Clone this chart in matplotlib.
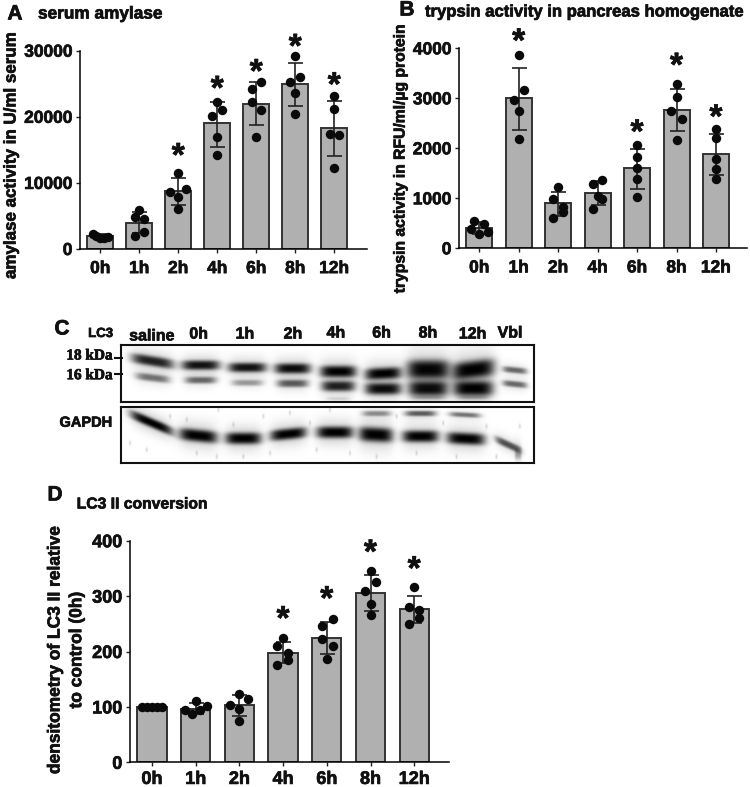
import numpy as np
import matplotlib
matplotlib.use("Agg")
import matplotlib.pyplot as plt
import matplotlib.patheffects as pe

plt.rcParams['font.family'] = ['Liberation Sans', 'DejaVu Sans']
plt.rcParams['font.weight'] = 'bold'

W, H = 750, 787
hours = ["0h", "1h", "2h", "4h", "6h", "8h", "12h"]
heavy = [pe.withStroke(linewidth=0.5, foreground='#111111')]

# Panel A
a_means = [2000, 4000, 8700, 19000, 22000, 25000, 18300]
a_low = [1750, 2400, 6700, 15500, 18700, 21700, 14000]
a_high = [2250, 5600, 10700, 22300, 25200, 28200, 22400]
a_points = [[2300, 1900, 1700, 1600, 1850],
            [5900, 4800, 4500, 2600, 1950],
            [11550, 8670, 9030, 7900, 6050],
            [22200, 21100, 20100, 16900, 14170],
            [25260, 24150, 22290, 21000, 16940],
            [29250, 26070, 25210, 23600, 20420],
            [23140, 21180, 17400, 17200, 12300]]
a_jitter = [[-.2, -.1, 0, .1, .2],
            [0, -.12, .12, .12, -.12],
            [0, -.21, .21, 0, 0],
            [0, .13, -.13, 0, 0],
            [.12, -.12, -.12, .12, 0],
            [0, .13, -.13, 0, 0],
            [0, 0, -.12, .12, 0]]
a_star = [None, None, 14700, 24850, 27400, 31200, 25400]

# Panel B
b_means = [400, 3000, 900, 1100, 1600, 2770, 1880]
b_low = [280, 2370, 650, 870, 1190, 2340, 1460]
b_high = [520, 3600, 1120, 1340, 1980, 3190, 2290]
b_points = [[540, 487, 380, 320, 280],
            [3860, 3160, 2973, 2753, 2180],
            [1220, 980, 833, 733, 613],
            [1287, 1367, 1053, 987, 793],
            [2060, 1833, 1600, 1380, 1033],
            [3287, 3020, 2753, 2593, 2167],
            [2393, 2200, 1787, 1580, 1380]]
b_jitter = [[-.13, .13, -.22, .21, 0],
            [0, .13, -.13, 0, 0],
            [0, -.13, .13, .13, -.13],
            [-.13, .12, 0, .12, -.13],
            [0, 0, 0, 0, 0],
            [0, 0, -.13, .13, 0],
            [0, 0, 0, 0, 0]]
b_star = [None, 4220, None, None, 2400, 3733, 2700]

# Panel D
d_means = [100, 97, 103, 198, 224, 306, 276]
d_low = [100, 87, 84, 179, 196, 274, 251]
d_high = [100, 107, 122, 218, 254, 338, 301]
d_points = [[100, 100, 100, 100, 100],
            [110, 102, 94, 94, 88],
            [124, 115, 103, 97, 75],
            [225, 210, 198, 185, 175],
            [258, 246, 223, 210, 186],
            [345, 325, 310, 285, 265],
            [316, 281, 275, 261, 250]]
d_jitter = [[-.22, -.11, 0, .11, .22],
            [0, .27, -.25, .09, -.08],
            [0, .2, -.22, 0, 0],
            [0, -.13, .12, .12, -.13],
            [.14, -.11, -.11, .14, 0],
            [0, .13, -.13, 0, 0],
            [0, -.13, .12, .12, -.13]]
d_star = [None, None, None, 266, 302, 386, 356]

# Blot bands (zoomed px): x, y, half width, half height, darkness, slope
lc3_bands = [(368, 153, 62, 15, .85, .16), (368, 203, 50, 11, .5, .12),
             (512, 165, 56, 14, .92, 0), (512, 210, 46, 10, .55, 0),
             (652, 172, 56, 14, .92, 0), (652, 218, 46, 9, .35, 0),
             (788, 175, 53, 15, .95, 0), (788, 220, 46, 11, .6, 0),
             (925, 184, 53, 17, 1, 0), (925, 228, 49, 15, .85, 0),
             (1060, 190, 53, 17, 1, -.05), (1060, 236, 53, 17, .95, 0),
             (1195, 178, 63, 28, .98, 0), (1195, 235, 58, 22, .95, 0),
             (1330, 178, 62, 26, 1, -.12), (1330, 235, 58, 22, 1, 0),
             (1455, 180, 36, 9, .55, .1), (1455, 222, 36, 9, .55, .1),
             (1195, 262, 50, 6, .2, 0), (1330, 262, 45, 6, .2, 0), (925, 266, 35, 5, .12, 0)]
gapdh_bands = [(365, 340, 62, 14, 1, .42), (505, 378, 56, 18, 1, .1),
               (640, 386, 53, 17, 1, 0), (775, 373, 53, 16, 1, -.1),
               (915, 368, 54, 17, 1, 0), (1038, 375, 50, 21, 1, .05),
               (1172, 380, 53, 17, 1, 0), (1308, 387, 56, 17, 1, .05),
               (1435, 405, 38, 11, .65, .45), (1465, 430, 10, 18, .3, 0),
               (1040, 312, 42, 8, .4, 0), (1172, 312, 46, 8, .6, 0),
               (1305, 316, 46, 7, .5, .05)]
gapdh_specks = [(420, 320), (470, 330), (350, 420), (565, 300), (610, 345), (700, 320),
                (720, 430), (560, 440), (780, 310), (840, 340), (900, 300), (960, 430),
                (1100, 320), (1160, 430), (1240, 340), (1370, 350), (1400, 440), (1470, 350),
                (300, 400), (640, 440), (1040, 440), (1280, 440), (500, 430), (860, 420)]
lane_labels = ["saline", "0h", "1h", "2h", "4h", "6h", "8h", "12h", "Vbl"]
lane_x = [152, 198.7, 245, 293, 336, 381.7, 428, 472.7, 510]
lane_y = [336, 334, 334, 334, 333, 333, 333, 334, 333]

fig = plt.figure(figsize=(W / 100, H / 100), dpi=100, facecolor='white')


def txt(x, y, s, size, **kw):
    kw.setdefault('ha', 'center')
    kw.setdefault('va', 'center')
    return fig.text(x / W, 1 - y / H, s, fontsize=size, fontweight='bold',
                    color='#111111', path_effects=heavy, **kw)


def panel(left, right, top, bottom, x0, dx, width, ymax, yticks, means, low, high,
          points, jitter, stars, ticksize, xpad):
    ax = fig.add_axes([left / W, 1 - bottom / H, (right - left) / W, (bottom - top) / H])
    ax.bar(range(7), means, width=width / dx, color='#b0b0b0', edgecolor='#333333', linewidth=1.4)
    for i in range(7):
        ax.errorbar(i, means[i], yerr=[[means[i] - low[i]], [high[i] - means[i]]],
                    color='#222222', capsize=5.4, elinewidth=1.2, capthick=1.2, zorder=3)
        ax.plot([i + j for j in jitter[i]], points[i], 'o', color='#0a0a0a', ms=6.8, mew=0, zorder=4,
                clip_on=False)
        if stars[i] is not None:
            ax.annotate("*", (i, stars[i]), xytext=(0, -1.5), textcoords='offset points', fontsize=24,
                        fontweight='bold', ha='center', va='center_baseline', color='#111111',
                        annotation_clip=False, path_effects=heavy)
    ax.set_xlim((left - x0) / dx, (right - x0) / dx)
    ax.set_ylim(0, ymax)
    ax.set_yticks(yticks)
    ax.set_xticks(range(7))
    ax.set_xticklabels(hours)
    ax.tick_params(labelsize=ticksize, width=1, length=3.2, color='#222222', labelcolor='#111111')
    ax.tick_params(axis='x', pad=xpad)
    ax.tick_params(axis='y', pad=2.5)
    for lab in ax.get_xticklabels() + ax.get_yticklabels():
        lab.set_path_effects(heavy)
    ax.spines['top'].set_visible(False)
    ax.spines['right'].set_visible(False)
    ax.spines['left'].set_linewidth(1.1)
    ax.spines['bottom'].set_linewidth(1.1)
    ax.set_facecolor('none')
    return ax


panel(80.3, 367, 50.7, 249, 100.3, 39, 26, 30000, [0, 10000, 20000, 30000],
      a_means, a_low, a_high, a_points, a_jitter, a_star, 12.5, 5.5)
panel(459.3, 746.7, 48.3, 248.3, 479.3, 39.45, 26, 4000, [0, 1000, 2000, 3000, 4000],
      b_means, b_low, b_high, b_points, b_jitter, b_star, 12.5, 5.5)
panel(130.3, 449, 540.7, 762.3, 152, 43.7, 29.3, 400, [0, 100, 200, 300, 400],
      d_means, d_low, d_high, d_points, d_jitter, d_star, 13, 3)

# Panel texts
txt(15, 14, "A", 15)
txt(38, 14, "serum amylase", 12.4, ha='left')
txt(11, 156, "amylase activity in U/ml serum", 12.2, rotation=90)
txt(407, 10, "B", 15)
txt(425, 12, "trypsin activity in pancreas homogenate", 12, ha='left')
txt(400, 158, "trypsin activity in RFU/ml/µg protein", 11.3, rotation=90)
txt(62, 329, "C", 15)
txt(55, 495, "D", 15)
txt(76.7, 504, "LC3 II conversion", 11.3, ha='left')
txt(55, 650, "densitometry of LC3 II relative", 12.5, rotation=90)
txt(76.7, 650, "to control (0h)", 12.5, rotation=90)


# Blot
def blot(left, right, top, bottom, bands, specks=()):
    ax = fig.add_axes([left / W, 1 - bottom / H, (right - left) / W, (bottom - top) / H])
    xz = np.linspace((left - 30) * 3, (right - 30) * 3, int((right - left) * 3))
    yz = np.linspace((top - 310) * 3, (bottom - 310) * 3, int((bottom - top) * 3))
    X, Y = np.meshgrid(xz, yz)
    light = np.ones_like(X)
    for bx, by, hw, hh, dark, slope in bands:
        dxz = X - bx
        dyz = Y - by - slope * dxz
        light *= 1 - dark * np.exp(-(dxz / hw) ** 4) * np.exp(-np.abs(dyz / hh) ** 3)
        light *= 1 - .2 * dark * np.exp(-(dxz / (hw * 1.05)) ** 4) * np.exp(-(dyz / (hh * 2.2)) ** 2)
    for sx, sy in specks:
        light *= 1 - .18 * np.exp(-((X - sx) / 3) ** 2 - ((Y - sy) / 7) ** 2)
    ax.imshow(light, cmap='gray', vmin=0, vmax=1, aspect='auto', interpolation='bilinear')
    ax.set_xticks([])
    ax.set_yticks([])
    for s in ax.spines.values():
        s.set_linewidth(1.5)
        s.set_color('#111111')


blot(121, 534, 345, 401.7, lc3_bands)
blot(121, 534, 406.7, 463, gapdh_bands, gapdh_specks)

txt(100.7, 334, "LC3", 9.5)
for lab, lx, ly in zip(lane_labels, lane_x, lane_y):
    txt(lx, ly, lab, 11.5)
txt(112.7, 356, "18 kDa", 11, ha='right', family='Liberation Serif')
txt(112.7, 375.7, "16 kDa", 11, ha='right', family='Liberation Serif')
txt(86, 422.7, "GAPDH", 10.5)
for ty in [357.7, 374]:
    fig.add_artist(plt.Line2D([115 / W, 121.7 / W], [1 - ty / H, 1 - ty / H], color='#111111', lw=1.5))

fig.savefig("out.png", dpi=100)
